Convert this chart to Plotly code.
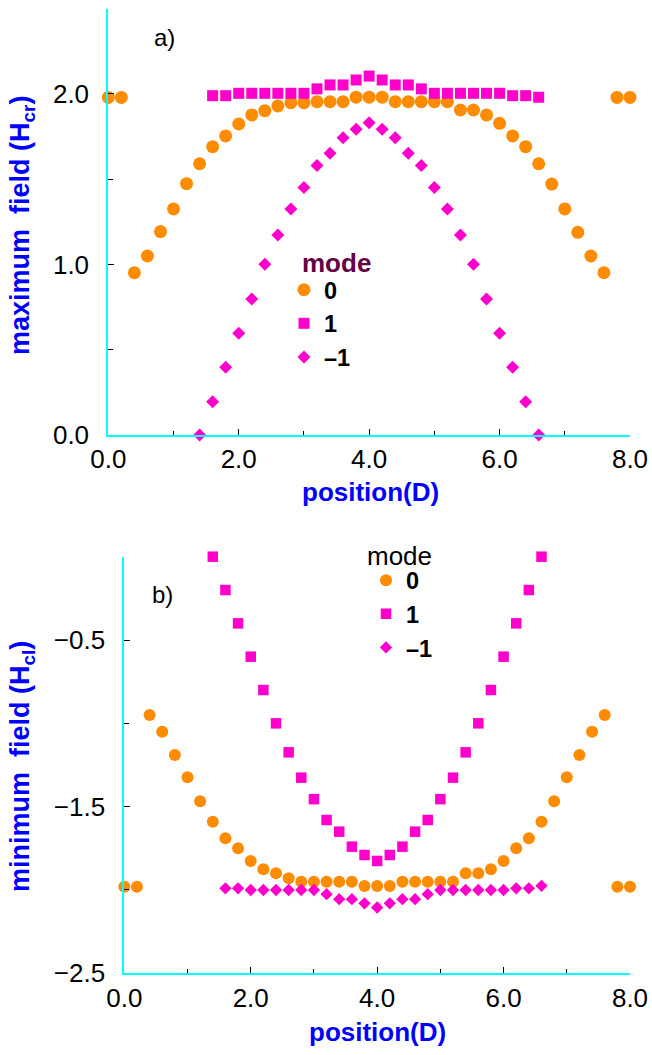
import plotly.graph_objects as go

FONT = "Liberation Sans, Arial, Helvetica, sans-serif"
ORANGE = "#FF8C00"
MAGENTA = "#FF00CC"
CYAN = "#00FFFF"
BLUE = "#0000FF"
PURPLE = "#660044"

W, H = 652, 1055

# ---------------- data: panel a (maximum field) ----------------
a_mode0_x = [0.0, 0.2, 0.4, 0.6, 0.8, 1.0, 1.2, 1.4, 1.6, 1.8, 2.0, 2.2, 2.4, 2.6, 2.8,
             3.0, 3.2, 3.4, 3.6, 3.8, 4.0, 4.2, 4.4, 4.6, 4.8, 5.0, 5.2, 5.4, 5.6, 5.8,
             6.0, 6.2, 6.4, 6.6, 6.8, 7.0, 7.2, 7.4, 7.6, 7.8, 8.0]
a_mode0_y = [1.98, 1.98, 0.952, 1.05, 1.193, 1.326, 1.474, 1.591, 1.691, 1.754, 1.824,
             1.877, 1.902, 1.93, 1.949, 1.949, 1.955, 1.955, 1.955, 1.981, 1.981, 1.981,
             1.955, 1.955, 1.955, 1.955, 1.955, 1.906, 1.906, 1.877, 1.828, 1.754, 1.691,
             1.591, 1.472, 1.326, 1.189, 1.05, 0.952, 1.98, 1.98]

a_mode1_x = [1.6, 1.8, 2.0, 2.2, 2.4, 2.6, 2.8, 3.0, 3.2, 3.4, 3.6, 3.8, 4.0, 4.2, 4.4,
             4.6, 4.8, 5.0, 5.2, 5.4, 5.6, 5.8, 6.0, 6.2, 6.4, 6.6]
a_mode1_y = [1.99, 1.99, 2.004, 2.004, 2.004, 2.004, 2.004, 2.004, 2.03, 2.053, 2.053,
             2.082, 2.105, 2.082, 2.053, 2.053, 2.03, 2.004, 2.004, 2.004, 2.004, 2.004,
             2.004, 1.99, 1.99, 1.981]

a_modem1_x = [1.4, 1.6, 1.8, 2.0, 2.2, 2.4, 2.6, 2.8, 3.0, 3.2, 3.4, 3.6, 3.8, 4.0, 4.2,
              4.4, 4.6, 4.8, 5.0, 5.2, 5.4, 5.6, 5.8, 6.0, 6.2, 6.4, 6.6]
a_modem1_y = [0.0, 0.196, 0.398, 0.597, 0.798, 1.001, 1.173, 1.326, 1.451, 1.58, 1.652,
              1.744, 1.793, 1.832, 1.793, 1.744, 1.652, 1.58, 1.451, 1.326, 1.173, 1.001,
              0.798, 0.597, 0.398, 0.196, 0.0]

# ---------------- data: panel b (minimum field) ----------------
b_mode0_x = [0.0, 0.2, 0.4, 0.6, 0.8, 1.0, 1.2, 1.4, 1.6, 1.8, 2.0, 2.2, 2.4, 2.6, 2.8,
             3.0, 3.2, 3.4, 3.6, 3.8, 4.0, 4.2, 4.4, 4.6, 4.8, 5.0, 5.2, 5.4, 5.6, 5.8,
             6.0, 6.2, 6.4, 6.6, 6.8, 7.0, 7.2, 7.4, 7.6, 7.8, 8.0]
b_mode0_y = [-1.98, -1.98, -0.95, -1.05, -1.19, -1.324, -1.468, -1.59, -1.69, -1.75,
             -1.826, -1.876, -1.90, -1.93, -1.95, -1.95, -1.95, -1.95, -1.95, -1.976,
             -1.976, -1.976, -1.95, -1.95, -1.95, -1.95, -1.95, -1.90, -1.90, -1.876,
             -1.826, -1.75, -1.69, -1.59, -1.468, -1.324, -1.19, -1.05, -0.95, -1.98, -1.98]

b_mode1_x = [1.4, 1.6, 1.8, 2.0, 2.2, 2.4, 2.6, 2.8, 3.0, 3.2, 3.4, 3.6, 3.8, 4.0, 4.2,
             4.4, 4.6, 4.8, 5.0, 5.2, 5.4, 5.6, 5.8, 6.0, 6.2, 6.4, 6.6]
b_mode1_y = [0.0, -0.2, -0.4, -0.6, -0.8, -1.0, -1.174, -1.326, -1.455, -1.58, -1.65,
             -1.74, -1.79, -1.826, -1.79, -1.74, -1.65, -1.58, -1.455, -1.326, -1.174,
             -1.0, -0.8, -0.6, -0.4, -0.2, 0.0]

b_modem1_x = [1.6, 1.8, 2.0, 2.2, 2.4, 2.6, 2.8, 3.0, 3.2, 3.4, 3.6, 3.8, 4.0, 4.2, 4.4,
              4.6, 4.8, 5.0, 5.2, 5.4, 5.6, 5.8, 6.0, 6.2, 6.4, 6.6]
b_modem1_y = [-1.99, -1.99, -2.0, -2.0, -2.0, -2.0, -2.0, -2.0, -2.025, -2.055, -2.055,
              -2.08, -2.105, -2.08, -2.055, -2.055, -2.025, -2.0, -2.0, -2.0, -2.0, -2.0,
              -2.0, -1.99, -1.99, -1.975]

mode_labels = ["0", "1", "\u20131"]

fig = go.Figure()

def add(x, y, name, symbol, color, size, xa, ya, legend):
    fig.add_trace(go.Scatter(
        x=x, y=y, mode="markers", name=name, xaxis=xa, yaxis=ya, legend=legend,
        cliponaxis=False,
        marker=dict(symbol=symbol, color=color, size=size, line=dict(width=0)),
    ))

add(a_mode0_x, a_mode0_y, mode_labels[0], "circle", ORANGE, 13, "x", "y", "legend")
add(a_mode1_x, a_mode1_y, mode_labels[1], "square", MAGENTA, 11, "x", "y", "legend")
add(a_modem1_x, a_modem1_y, mode_labels[2], "diamond", MAGENTA, 10, "x", "y", "legend")

add(b_mode0_x, b_mode0_y, mode_labels[0], "circle", ORANGE, 12, "x2", "y2", "legend2")
add(b_mode1_x, b_mode1_y, mode_labels[1], "square", MAGENTA, 10.5, "x2", "y2", "legend2")
add(b_modem1_x, b_modem1_y, mode_labels[2], "diamond", MAGENTA, 9.5, "x2", "y2", "legend2")

def px_x(p):
    return p / W

def px_y(p):
    return 1 - p / H

tickfont = dict(family=FONT, size=26, color="black")

def xaxis_cfg(domain, anchor):
    return dict(
        domain=domain, anchor=anchor, range=[0, 8], tick0=0, dtick=2, tickformat=".1f",
        showline=True, linecolor=CYAN, linewidth=2, mirror=False, automargin=False,
        ticks="inside", ticklen=6, tickwidth=1, tickcolor="black",
        minor=dict(dtick=1, ticks="inside", ticklen=4, tickcolor="black", tickwidth=1, showgrid=False),
        showgrid=False, zeroline=False, tickfont=tickfont, ticklabelstandoff=0,
        fixedrange=True,
    )

def yaxis_cfg(domain, anchor, rng, tick0):
    return dict(
        domain=domain, anchor=anchor, range=rng, tick0=tick0, dtick=1, tickformat=".1f",
        showline=True, linecolor=CYAN, linewidth=2, mirror=False, automargin=False,
        ticks="inside", ticklen=6, tickwidth=1, tickcolor="black",
        minor=dict(dtick=0.5, ticks="inside", ticklen=5, tickcolor="black", tickwidth=1, showgrid=False),
        showgrid=False, zeroline=False, tickfont=tickfont, ticklabelstandoff=12,
        fixedrange=True,
    )

legend_font = dict(family=FONT, size=23.5, color="black", weight="bold")

fig.update_layout(
    width=W, height=H,
    margin=dict(l=0, r=0, t=0, b=0, pad=0, autoexpand=False),
    paper_bgcolor="white", plot_bgcolor="white",
    font=dict(family=FONT, color="black"),
    xaxis=xaxis_cfg([px_x(108.3), px_x(630)], "y"),
    yaxis=yaxis_cfg([px_y(435.1), px_y(8.7)], "x", [0, 2.5], 0),
    xaxis2=xaxis_cfg([px_x(124.3), px_x(630)], "y2"),
    yaxis2=yaxis_cfg([px_y(973.3), px_y(556.7)], "x2", [-2.5, 0], -2.5),
    showlegend=True,
    legend=dict(x=px_x(284), y=px_y(268), xanchor="left", yanchor="top",
                bgcolor="rgba(0,0,0,0)", borderwidth=0, font=legend_font),
    legend2=dict(x=px_x(366), y=px_y(558.5), xanchor="left", yanchor="top",
                 bgcolor="rgba(0,0,0,0)", borderwidth=0, font=legend_font),
)

annotations = [
    # panel labels
    dict(text="a)", x=px_x(152), y=px_y(37), xanchor="left", yanchor="middle",
         font=dict(family=FONT, size=24, color="black")),
    dict(text="b)", x=px_x(150), y=px_y(594), xanchor="left", yanchor="middle",
         font=dict(family=FONT, size=24, color="black")),
    # legend titles
    dict(text="mode", x=px_x(300), y=px_y(263), xanchor="left", yanchor="middle",
         font=dict(family=FONT, size=26, color=PURPLE, weight="bold")),
    dict(text="mode", x=px_x(365), y=px_y(556), xanchor="left", yanchor="middle",
         font=dict(family=FONT, size=26, color="black")),
    # axis titles
    dict(text="maximum\u00a0 field (H<sub>cr</sub>)", x=px_x(22), y=px_y(226), textangle=-90,
         xanchor="center", yanchor="middle",
         font=dict(family=FONT, size=27, color=BLUE, weight="bold")),
    dict(text="minimum\u00a0 field (H<sub>cl</sub>)", x=px_x(22), y=px_y(767), textangle=-90,
         xanchor="center", yanchor="middle",
         font=dict(family=FONT, size=27, color=BLUE, weight="bold")),
    dict(text="position(D)", x=px_x(370), y=px_y(492), xanchor="center", yanchor="middle",
         font=dict(family=FONT, size=26, color=BLUE, weight="bold")),
    dict(text="position(D)", x=px_x(377), y=px_y(1032), xanchor="center", yanchor="middle",
         font=dict(family=FONT, size=26, color=BLUE, weight="bold")),
]
for a in annotations:
    a.update(xref="paper", yref="paper", showarrow=False)
fig.update_layout(annotations=annotations)

fig.write_html(
    "out.html",
    config={"displayModeBar": False, "staticPlot": False},
    post_script="document.body.style.margin='0';document.body.style.overflow='hidden';",
)
